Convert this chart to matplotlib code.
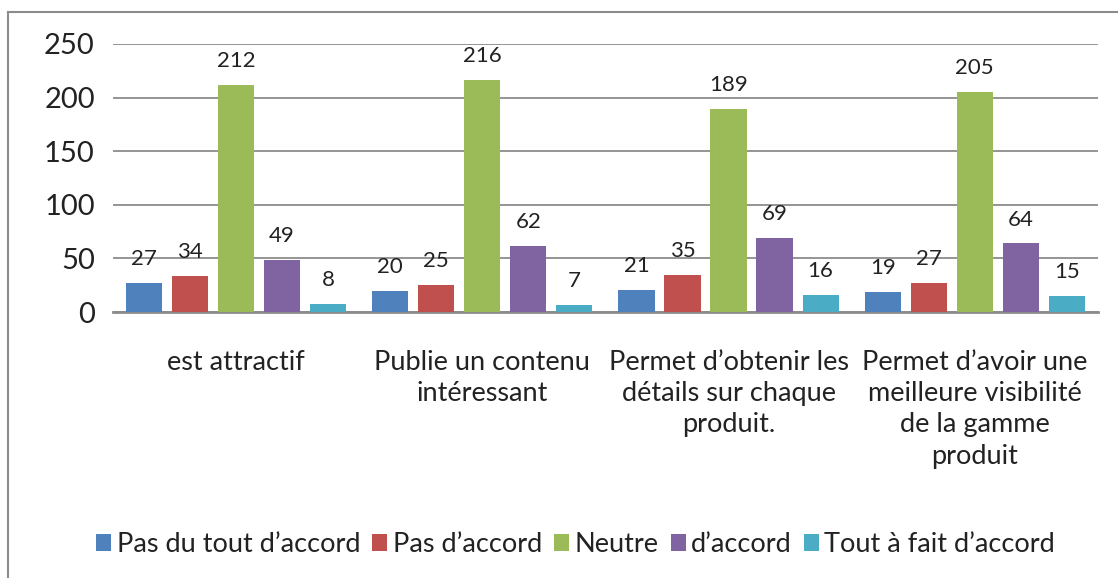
import numpy as np
import matplotlib
matplotlib.use("Agg")
import matplotlib.pyplot as plt
from matplotlib.lines import Line2D

plt.rcParams['font.family'] = ['Lato', 'DejaVu Sans']

# data
categories = ["est attractif",
              "Publie un contenu\nintéressant",
              "Permet d\u2019obtenir les\ndétails sur chaque\nproduit.",
              "Permet d\u2019avoir une\nmeilleure visibilité\nde la gamme\nproduit"]
series_names = ["Pas du tout d\u2019accord", "Pas d\u2019accord", "Neutre",
                "d\u2019accord", "Tout à fait d\u2019accord"]
pas_du_tout = [27, 20, 21, 19]
pas_accord = [34, 25, 35, 27]
neutre = [212, 216, 189, 205]
accord = [49, 62, 69, 64]
tout_a_fait = [8, 7, 16, 15]
colors = ["#4F81BD", "#C0504D", "#9BBB59", "#8064A2", "#4BACC6"]

values = [pas_du_tout, pas_accord, neutre, accord, tout_a_fait]

fig = plt.figure(figsize=(11.18, 5.78), dpi=100)
ax = fig.add_axes([0.101, 0.46, 0.881, 0.464])

x = np.arange(len(categories))
step = 0.187
width = 0.147
for i, (name, vals) in enumerate(zip(series_names, values)):
    pos = x + (i - 2) * step
    bars = ax.bar(pos, vals, width, color=colors[i], label=name, zorder=3)
    for b, v in zip(bars, vals):
        ax.text(b.get_x() + b.get_width() / 2, v + 13, str(v),
                ha="center", va="bottom", fontsize=16, color="#222222", zorder=4)

ax.set_xlim(-0.5, len(categories) - 0.5)
ax.set_ylim(0, 250)
ax.set_yticks([0, 50, 100, 150, 200, 250])
ax.tick_params(axis="y", length=0, labelsize=21, pad=13, colors="#222222")
ax.tick_params(axis="x", length=0, labelsize=19.5, pad=27, colors="#222222")
ax.set_xticks(x)
ax.set_xticklabels(categories, linespacing=1.32)
ax.yaxis.grid(True, color="#8c8c8c", linewidth=1.3, zorder=0)
for s in ["top", "right", "left"]:
    ax.spines[s].set_visible(False)
ax.spines["bottom"].set_color("#8c8c8c")
ax.spines["bottom"].set_linewidth(2)

fig.legend(loc="center", bbox_to_anchor=(0.515, 0.058), ncol=5, frameon=False,
           fontsize=19.5, handlelength=0.55, handleheight=0.55, handletextpad=0.2,
           columnspacing=0.45, labelcolor="#222222")

# outer chart border (top and left visible)
fig.add_artist(Line2D([0.007, 1.0], [0.979, 0.979], transform=fig.transFigure,
                      color="#8c8c8c", linewidth=1.5))
fig.add_artist(Line2D([0.007, 0.007], [0.0, 0.979], transform=fig.transFigure,
                      color="#8c8c8c", linewidth=1.5))

fig.savefig("out.png", dpi=100)
